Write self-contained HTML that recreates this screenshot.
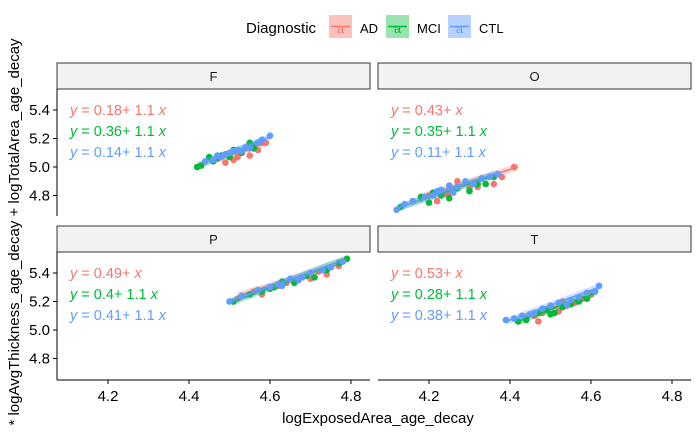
<!DOCTYPE html>
<html><head><meta charset="utf-8"><style>
body{margin:0;background:#fff;font-family:"Liberation Sans",sans-serif}
svg text{font-family:"Liberation Sans",sans-serif}
</style></head><body>
<svg id="c" width="700" height="432" xmlns="http://www.w3.org/2000/svg">
<rect width="700" height="432" fill="#fff"/>
<g>
<text x="246" y="33" font-size="15" fill="#000">Diagnostic</text>
<g><rect x="329" y="15" width="23" height="23" fill="#F8766D" opacity="0.45"/><line x1="331" y1="26.5" x2="350" y2="26.5" stroke="#F8766D" stroke-width="1.5"/><text x="340.5" y="33" font-size="13" fill="#F8766D" text-anchor="middle">a</text><text x="360" y="33" font-size="13">AD</text></g>
<g><rect x="386" y="15" width="23" height="23" fill="#00BA38" opacity="0.4"/><line x1="388" y1="26.5" x2="407" y2="26.5" stroke="#00BA38" stroke-width="1.5"/><text x="397.5" y="33" font-size="13" fill="#00BA38" text-anchor="middle">a</text><text x="417" y="33" font-size="13">MCI</text></g>
<g><rect x="448" y="15" width="23" height="23" fill="#619CFF" opacity="0.45"/><line x1="450" y1="26.5" x2="469" y2="26.5" stroke="#619CFF" stroke-width="1.5"/><text x="459.5" y="33" font-size="13" fill="#619CFF" text-anchor="middle">a</text><text x="479" y="33" font-size="13">CTL</text></g>
</g>
<text x="378" y="423" font-size="15" text-anchor="middle">logExposedArea_age_decay</text>
<text transform="translate(19,232) rotate(-90)" font-size="15" text-anchor="middle">* logAvgThickness_age_decay + logTotalArea_age_decay</text>
<g id="panels"></g>
</svg>
<script>
const panelNames=["F","O","P","T"];
const groups=["AD","MCI","CTL"];
const colors=["#F8766D","#00BA38","#619CFF"];
const eqs={F:["0.18","0.36","0.14"],O:["0.43","0.35","0.11"],P:["0.49","0.4","0.41"],T:["0.53","0.28","0.38"]};
const slopes={F:["1.1","1.1","1.1"],O:["","1.1","1.1"],P:["","1.1","1.1"],T:["","1.1","1.1"]};
const xTicks=[4.2,4.4,4.6,4.8];
const yTicks=[4.8,5.0,5.2,5.4];
const xTickLabels=["4.2","4.4","4.6","4.8"];
const yTickLabels=["4.8","5.0","5.2","5.4"];
const ptsX={
F:[[4.47,4.49,4.5,4.52,4.53,4.55,4.56,4.57,4.58,4.59,4.51,4.54],[4.42,4.43,4.45,4.46,4.48,4.5,4.51,4.53,4.55,4.56,4.58,4.47],[4.44,4.46,4.47,4.49,4.5,4.52,4.53,4.54,4.55,4.57,4.58,4.6,4.48,4.51]],
O:[[4.18,4.2,4.22,4.25,4.27,4.3,4.32,4.33,4.36,4.38,4.41,4.24],[4.13,4.16,4.18,4.2,4.23,4.25,4.27,4.3,4.32,4.34,4.36,4.21],[4.12,4.14,4.16,4.19,4.21,4.23,4.25,4.27,4.29,4.31,4.33,4.35,4.37,4.22,4.26]],
P:[[4.52,4.56,4.6,4.62,4.64,4.67,4.7,4.72,4.74,4.77,4.58,4.66],[4.51,4.55,4.58,4.61,4.63,4.66,4.69,4.71,4.74,4.77,4.79,4.6],[4.5,4.53,4.57,4.6,4.62,4.65,4.68,4.7,4.73,4.75,4.78,4.63,4.67]],
T:[[4.44,4.46,4.48,4.5,4.52,4.54,4.56,4.58,4.6,4.47,4.53],[4.42,4.44,4.47,4.49,4.51,4.53,4.55,4.57,4.59,4.61,4.5],[4.39,4.41,4.43,4.46,4.48,4.5,4.52,4.55,4.57,4.59,4.61,4.62,4.45,4.54]]};
const ptsY={
F:[[5.06,5.03,5.09,5.07,5.1,5.08,5.15,5.12,5.17,5.17,5.05,5.13],[5.0,5.01,5.07,5.04,5.08,5.07,5.12,5.1,5.17,5.13,5.19,5.06],[5.04,5.05,5.08,5.09,5.1,5.12,5.11,5.14,5.13,5.17,5.19,5.22,5.07,5.11]],
O:[[4.78,4.8,4.76,4.82,4.9,4.85,4.86,4.92,4.88,4.93,5.0,4.81],[4.72,4.76,4.79,4.75,4.8,4.78,4.85,4.83,4.88,4.88,4.93,4.82],[4.7,4.74,4.76,4.79,4.8,4.84,4.87,4.86,4.9,4.88,4.92,4.93,4.95,4.83,4.82]],
P:[[5.22,5.27,5.29,5.31,5.33,5.35,5.36,5.41,5.39,5.45,5.25,5.34],[5.2,5.25,5.27,5.3,5.34,5.33,5.38,5.37,5.42,5.47,5.5,5.29],[5.2,5.24,5.28,5.3,5.32,5.36,5.37,5.4,5.42,5.44,5.48,5.31,5.35]],
T:[[5.08,5.1,5.12,5.16,5.13,5.17,5.19,5.22,5.25,5.06,5.2],[5.06,5.07,5.12,5.14,5.12,5.16,5.18,5.2,5.22,5.27,5.11],[5.07,5.08,5.1,5.12,5.15,5.17,5.19,5.21,5.23,5.26,5.27,5.31,5.11,5.18]]};
const fitLines={
F:[[4.47,4.59,5.05,5.17],[4.42,4.58,5.01,5.18],[4.44,4.6,5.03,5.21]],
O:[[4.18,4.42,4.79,5.0],[4.13,4.36,4.72,4.94],[4.12,4.37,4.71,4.96]],
P:[[4.52,4.77,5.24,5.46],[4.51,4.79,5.2,5.5],[4.5,4.78,5.2,5.49]],
T:[[4.44,4.6,5.1,5.24],[4.42,4.61,5.06,5.26],[4.39,4.62,5.06,5.3]]};
const NS="http://www.w3.org/2000/svg";
const G=document.getElementById('panels');
function mk(t,a,p){const e=document.createElementNS(NS,t);for(const k in a)e.setAttribute(k,a[k]);(p||G).appendChild(e);return e;}
const lay={F:[57,89,370,216],O:[378,89,691,216],P:[57,252,370,380],T:[378,252,691,380]};
panelNames.forEach((pn,pi)=>{
 const [L,T,R,B]=lay[pn];
 const xs=v=>L+51+(v-4.2)*405;
 const ys=v=>T+21+(5.4-v)*142.5;
 const g=mk('g',{});
 
 
 const st=mk('rect',{x:L,y:T-26,width:R-L,height:26,fill:'#f2f2f2',stroke:'#333','stroke-width':1},g);
 
 
 const stt=mk('text',{x:(L+R)/2,y:T-8,'font-size':13,'text-anchor':'middle',fill:'#1a1a1a'},g);stt.textContent=pn;
 
 
 if(pi%2===0){
  mk('line',{x1:L,y1:T,x2:L,y2:B,stroke:'#000','stroke-width':1},g);
  yTicks.forEach((v,i)=>{mk('line',{x1:L-4,y1:ys(v),x2:L,y2:ys(v),stroke:'#000'},g);
   const t=mk('text',{x:L-7,y:ys(v)+5,'font-size':15,'text-anchor':'end'},g);t.textContent=yTickLabels[i];
   
   });
 }
 if(pi>=2){
  mk('line',{x1:L,y1:B,x2:R,y2:B,stroke:'#000','stroke-width':1},g);
  xTicks.forEach((v,i)=>{mk('line',{x1:xs(v),y1:B,x2:xs(v),y2:B+4,stroke:'#000'},g);
   const t=mk('text',{x:xs(v),y:B+21,'font-size':15,'text-anchor':'middle'},g);t.textContent=xTickLabels[i];
   
   });
 }
 groups.forEach((gn,gi)=>{
  const c=colors[gi];
  const fl=fitLines[pn][gi];
  const ci=mk('path',{d:`M${xs(fl[0])},${ys(fl[2])-3.5}L${xs(fl[1])},${ys(fl[3])-3.5}L${xs(fl[1])},${ys(fl[3])+3.5}L${xs(fl[0])},${ys(fl[2])+3.5}Z`,fill:c,opacity:0.3},g);
  
  
  ptsX[pn][gi].forEach((xv,k)=>{
   const p=mk('circle',{cx:xs(xv),cy:ys(ptsY[pn][gi][k]),r:3.3,fill:c},g);
   
   
  });
  const ln=mk('line',{x1:xs(fl[0]),y1:ys(fl[2]),x2:xs(fl[1]),y2:ys(fl[3]),stroke:c,'stroke-width':1.5},g);
  
  
  const eq=mk('text',{x:L+13,y:T+26+gi*21,'font-size':14.5,fill:c},g);
  const sl=slopes[pn][gi];
  eq.innerHTML='<tspan font-style="italic">y</tspan> = '+eqs[pn][gi]+'+ '+(sl?sl+' ':'')+'<tspan font-style="italic">x</tspan>';
  
  
 });
});
</script>
</body></html>
